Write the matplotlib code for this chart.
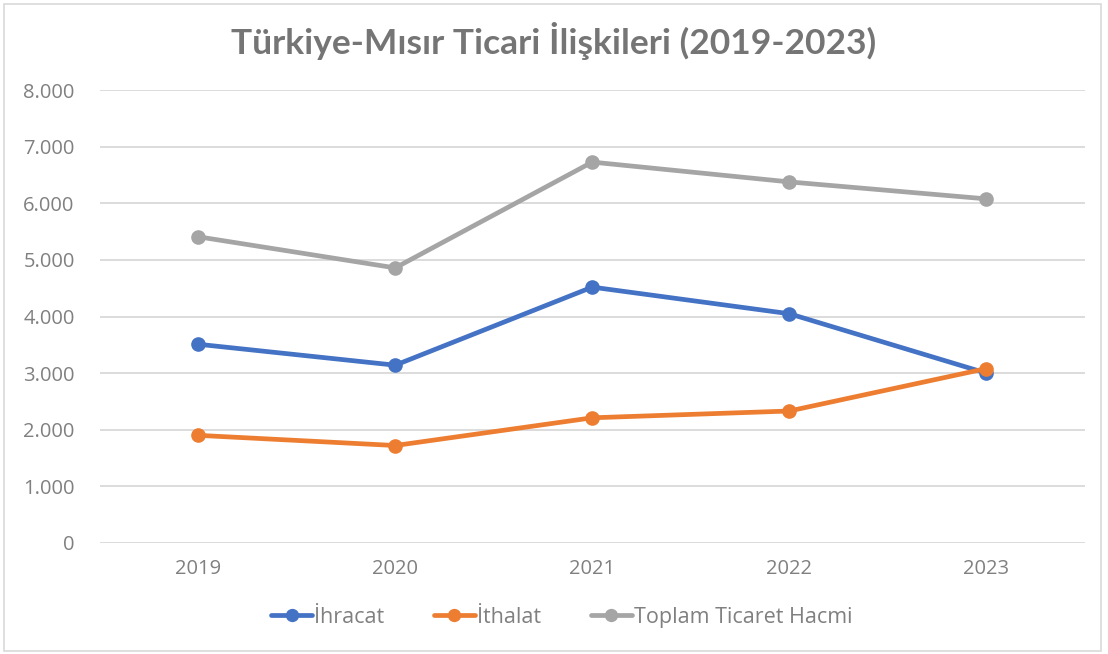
import matplotlib
matplotlib.use("Agg")
import matplotlib.pyplot as plt
from matplotlib.ticker import FuncFormatter
from matplotlib.patches import Rectangle

years = ["2019", "2020", "2021", "2022", "2023"]
ihracat = [3510, 3140, 4520, 4050, 3000]
ithalat = [1900, 1720, 2210, 2330, 3080]
toplam = [5410, 4860, 6730, 6380, 6080]

series = [
    ("İhracat", ihracat, "#4472C4"),
    ("İthalat", ithalat, "#ED7D31"),
    ("Toplam Ticaret Hacmi", toplam, "#A5A5A5"),
]

plt.rcParams['font.family'] = ['Open Sans', 'DejaVu Sans']
text_color = "#808080"

fig = plt.figure(figsize=(11.08, 6.54), dpi=100)
ax = fig.add_axes([0.09, 0.17, 0.889, 0.692])

x = list(range(len(years)))
for name, vals, col in series:
    ax.plot(x, vals, color=col, lw=3.4, marker="o", markersize=9.5,
            label=name, solid_capstyle="round")

ax.set_xlim(-0.5, len(years) - 0.5)
ax.set_ylim(0, 8000)
ax.set_yticks(range(0, 8001, 1000))
ax.yaxis.set_major_formatter(FuncFormatter(lambda v, p: f"{int(v):,}".replace(",", ".")))
ax.set_xticks(x)
ax.set_xticklabels(years)
ax.tick_params(length=0, labelsize=14.5, colors=text_color)
ax.tick_params(axis="y", pad=18)
ax.tick_params(axis="x", pad=12)
ax.grid(axis="y", color="#d9d9d9", lw=1.3)
ax.set_axisbelow(True)
for s in ax.spines.values():
    s.set_visible(False)

fig.text(0.5, 0.937, "Türkiye-Mısır Ticari İlişkileri (2019-2023)", ha="center",
         va="center", fontsize=25.5, fontweight="bold", color="#757575",
         family=['Lato', 'DejaVu Sans'])

fig.legend(*ax.get_legend_handles_labels(), loc="center", bbox_to_anchor=(0.507, 0.056),
           ncol=3, frameon=False, fontsize=15.5, labelcolor=text_color,
           handlelength=1.9, handletextpad=0.1, columnspacing=2.3, markerscale=0.9)

fig.patches.append(Rectangle((0.004, 0.004), 0.99, 0.99, transform=fig.transFigure,
                             fill=False, edgecolor="#d9d9d9", lw=1.2))

fig.savefig("out.png", dpi=100)
